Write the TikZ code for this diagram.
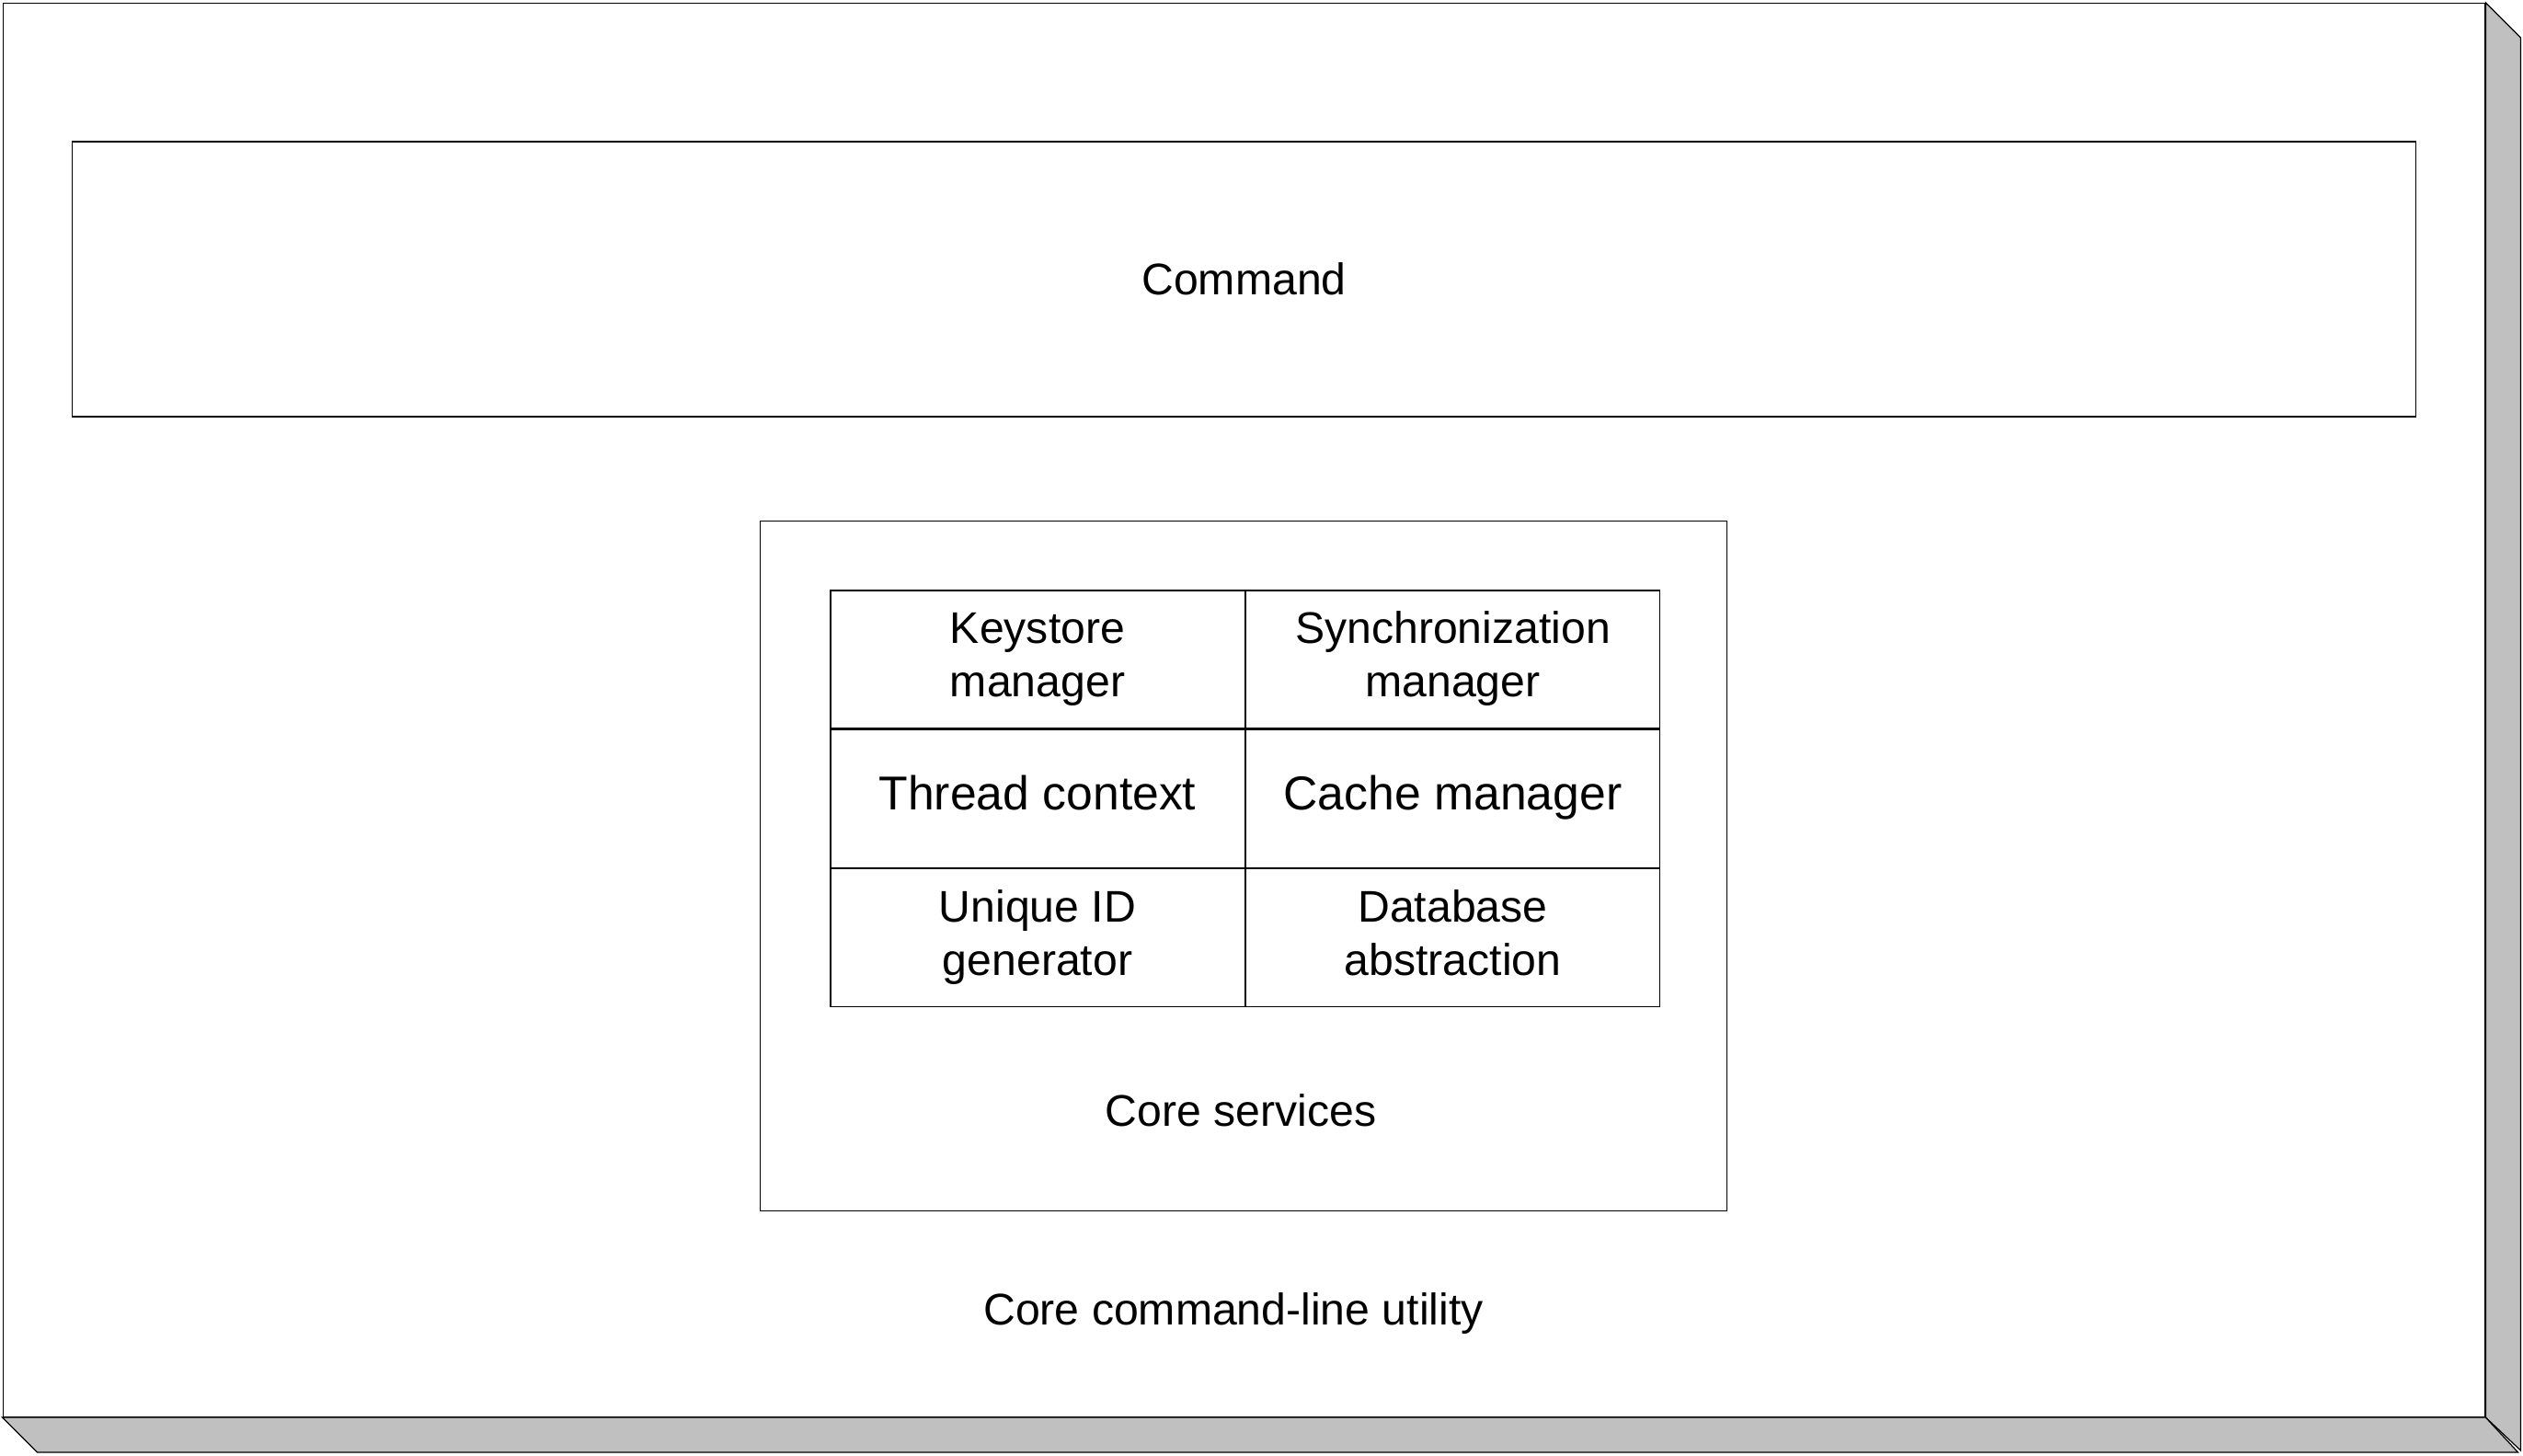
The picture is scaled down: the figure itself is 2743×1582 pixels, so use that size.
\documentclass[tikz,border=0pt]{standalone}
\usepackage{fontspec}
\setmainfont{Liberation Sans}
\usetikzlibrary{positioning}
\definecolor{sidegray}{HTML}{C0C0C0}

\begin{document}
\begin{tikzpicture}[x=0.01cm, y=-0.01cm,
  frame/.style={draw, line width=0.35pt, inner sep=0pt},
  txt/.style={font=\fontsize{13.7}{16.5}\selectfont, align=center, inner sep=0pt},
  cell/.style={frame, txt, minimum width=4.5cm, minimum height=1.5cm},
  bigcell/.style={cell, font=\fontsize{14.7}{17}\selectfont}]
\useasboundingbox (0,0) rectangle (2743,1582);
% outer box with its raised sides
\node[frame, fill=white, minimum width=26.97cm, minimum height=15.36cm] (util) at (1352.5,772) {};
\draw[line width=0.35pt, fill=sidegray] (util.north east) -- ++(38,38) -- ++(0,1536) -- (util.south east) -- cycle;
\draw[line width=0.35pt, fill=sidegray] (util.south west) -- ++(38,38) -- ++(2697,0) -- (util.south east) -- cycle;
\node[txt] (utillabel) at (1341,1428) {Core command-line utility};
% command
\node[frame, txt, minimum width=25.47cm, minimum height=2.99cm] (command) at (1352.5,303.5) {Command};
% core services
\node[frame, minimum width=10.5cm, minimum height=7.49cm] (core) at (1352,941.5) {};
\node[txt] (corelabel) at (1349,1207) {Core services};
\node[cell] (keystore) at (1128,717) {Keystore\strut\\ manager\strut};
\node[cell, right=0pt of keystore] (sync) {Synchronization\strut\\ manager\strut};
\node[bigcell, below=0pt of keystore] (thread) {Thread context\strut};
\node[bigcell, right=0pt of thread] (cache) {Cache manager\strut};
\node[cell, below=0pt of thread] (uid) {Unique ID\strut\\ generator\strut};
\node[cell, right=0pt of uid] (db) {Database\strut\\ abstraction\strut};
\end{tikzpicture}
\end{document}
